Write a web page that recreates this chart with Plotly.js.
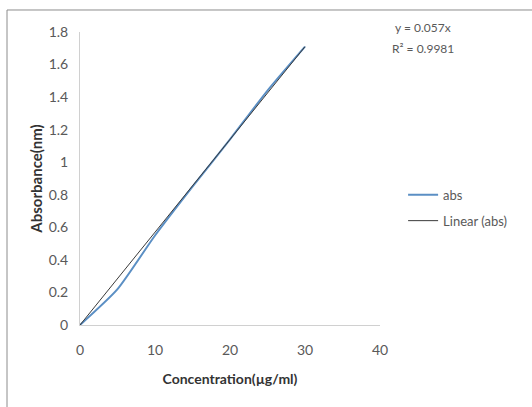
<!DOCTYPE html>
<html><head><meta charset="utf-8">
<script src="https://cdn.plot.ly/plotly-3.0.1.min.js"></script>
<style>
html,body{margin:0;padding:0;background:#fff;overflow:hidden;}
#chart{width:532px;height:407px;}
</style></head>
<body>
<div id="chart"></div>
<script>
const concentration = [0, 5, 10, 15, 20, 25, 30];
const absorbance = [0, 0.22, 0.55, 0.85, 1.14, 1.44, 1.71];
const slope = 0.057;
const trendX = [0, 30];
const trendY = trendX.map(x => slope * x);

const traces = [
  {x: concentration, y: absorbance, name: 'abs', legendgroup: 'a', mode: 'lines', line: {color: '#5b8fc4', width: 2, shape: 'spline', smoothing: 0.6}},
  {x: trendX, y: trendY, name: 'Linear (abs)', legendgroup: 'b', mode: 'lines', line: {color: '#3a3a3a', width: 1}}
];
const fam = 'Lato, "Liberation Sans", sans-serif';
const f = {family: fam, size: 14, color: '#595959'};
const layout = {
  width: 532, height: 407,
  margin: {l: 80, r: 152, t: 32, b: 82},
  paper_bgcolor: '#fff', plot_bgcolor: '#fff',
  font: f,
  showlegend: true,
  legend: {x: 1.077, y: 0.4, xanchor: 'left', yanchor: 'middle', font: {family: fam, size: 13, color: '#595959'}, tracegroupgap: 6, itemwidth: 30},
  xaxis: {range: [0, 40], dtick: 10, showgrid: false, zeroline: false, showline: true, linecolor: '#d0d0d0', ticks: '', tickfont: f, ticklabelstandoff: 12,
    title: {text: 'Concentration(µg/ml)', font: {family: fam, size: 14, color: '#333', weight: 'bold'}, standoff: 17}},
  yaxis: {range: [0, 1.8], dtick: 0.2, showgrid: false, zeroline: false, showline: true, linecolor: '#d0d0d0', ticks: '', tickfont: f, ticklabelstandoff: 8,
    title: {text: 'Absorbance(nm)', font: {family: fam, size: 15, color: '#333', weight: 'bold'}, standoff: 2}},
  shapes: [
    {type: 'line', xref: 'paper', yref: 'paper', x0: -0.2433, x1: -0.2433, y0: 1.0751, y1: -0.3, line: {color: '#8c8c8c', width: 1}},
    {type: 'line', xref: 'paper', yref: 'paper', x0: -0.2433, x1: 1.6, y0: 1.0751, y1: 1.0751, line: {color: '#8c8c8c', width: 1}}
  ],
  annotations: [
    {xref: 'paper', yref: 'paper', x: 1.143, y: 1.017, xanchor: 'center', yanchor: 'middle', text: 'y = 0.057x', showarrow: false, font: {family: fam, size: 12, color: '#595959'}},
    {xref: 'paper', yref: 'paper', x: 1.143, y: 0.945, xanchor: 'center', yanchor: 'middle', text: 'R² = 0.9981', showarrow: false, font: {family: fam, size: 12, color: '#595959'}}
  ]
};
Plotly.newPlot('chart', traces, layout, {displayModeBar: false, staticPlot: true});
</script>
</body></html>
